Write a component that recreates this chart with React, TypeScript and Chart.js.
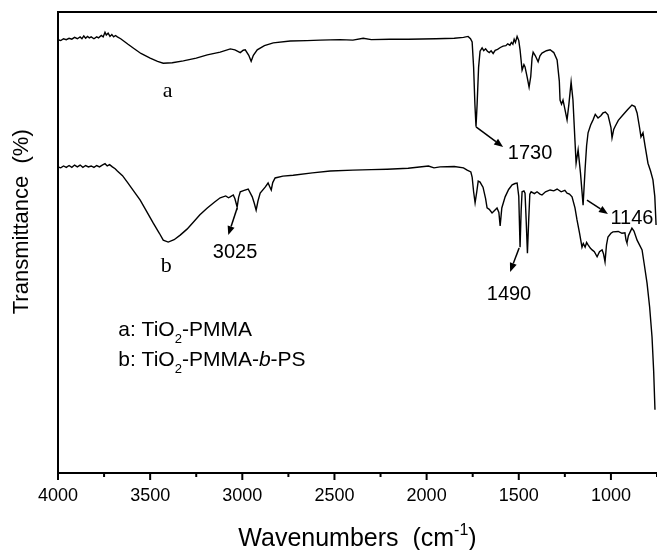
import React, { useEffect, useRef } from "react";
import { Chart, registerables } from "chart.js";

Chart.register(...registerables);

// ---- Data (wavenumber cm^-1, transmittance in arbitrary % units) ----
const SPECTRUM_A: [number, number][] = [
  [4000, 94.0], [3985, 93.8], [3970, 94.2], [3955, 94.0], [3940, 94.3], [3925, 94.1], [3910, 94.5],
  [3895, 94.2], [3880, 94.6], [3870, 94.2], [3860, 94.8], [3850, 94.3], [3840, 94.7], [3830, 94.4],
  [3820, 94.6], [3805, 94.2], [3790, 94.6], [3780, 94.4], [3765, 94.9], [3755, 94.6], [3745, 95.6],
  [3738, 95.0], [3728, 95.4], [3718, 94.7], [3708, 95.1], [3698, 94.6], [3688, 94.9], [3678, 94.6],
  [3660, 94.2], [3640, 93.6], [3620, 93.0], [3592, 92.2], [3550, 91.0], [3500, 90.0], [3460, 89.3],
  [3429, 88.9], [3380, 89.0], [3320, 89.4], [3250, 90.0], [3190, 90.7], [3120, 91.3], [3065, 92.0],
  [3040, 91.8], [3011, 91.2], [2995, 91.7], [2984, 91.8], [2965, 90.6], [2952, 89.3], [2940, 90.6],
  [2919, 91.8], [2880, 92.7], [2832, 93.3], [2740, 93.7], [2650, 93.8], [2578, 93.9], [2470, 94.0],
  [2400, 93.9], [2344, 94.3], [2300, 94.0], [2200, 94.1], [2100, 94.1], [1950, 94.2], [1850, 94.3],
  [1800, 94.5], [1775, 94.7], [1762, 94.2], [1753, 93.5], [1745, 88.0], [1738, 80.0], [1732, 75.1],
  [1726, 80.0], [1718, 88.0], [1710, 91.5], [1699, 92.2], [1690, 91.6], [1680, 92.0], [1670, 91.5],
  [1660, 91.2], [1650, 91.6], [1639, 91.0], [1628, 91.7], [1615, 91.9], [1600, 92.3], [1585, 92.6],
  [1570, 92.7], [1560, 93.1], [1548, 92.8], [1540, 93.4], [1532, 93.0], [1525, 94.1], [1518, 93.4],
  [1509, 94.7], [1500, 93.8], [1493, 91.8], [1482, 87.4], [1472, 88.6], [1466, 88.1], [1455, 86.0],
  [1444, 83.7], [1435, 86.0], [1428, 90.0], [1422, 91.3], [1410, 90.5], [1395, 89.2], [1385, 90.5],
  [1374, 91.1], [1350, 91.6], [1330, 91.8], [1310, 91.2], [1292, 89.6], [1280, 85.0], [1276, 80.9],
  [1268, 80.0], [1260, 80.9], [1250, 79.0], [1238, 76.6], [1228, 80.0], [1216, 84.8], [1206, 80.9],
  [1195, 72.0], [1189, 67.2], [1178, 70.1], [1165, 65.0], [1151, 58.1], [1140, 66.0], [1132, 71.0],
  [1124, 73.8], [1110, 75.5], [1097, 76.6], [1085, 77.8], [1070, 77.0], [1055, 77.5], [1043, 78.1],
  [1030, 78.3], [1016, 77.7], [1000, 75.0], [994, 72.7], [985, 74.5], [978, 75.1], [960, 76.5],
  [934, 77.7], [910, 78.8], [886, 79.8], [870, 79.5], [858, 78.1], [845, 75.0], [837, 72.9],
  [826, 73.8], [815, 71.0], [799, 67.2], [785, 65.5], [772, 63.6], [762, 60.0], [755, 53.8],
];

const SPECTRUM_B: [number, number][] = [
  [4000, 66.4], [3985, 66.2], [3970, 66.6], [3955, 66.3], [3940, 66.7], [3925, 66.3], [3910, 66.8],
  [3895, 66.4], [3880, 66.8], [3865, 66.3], [3850, 66.7], [3835, 66.4], [3820, 66.6], [3805, 66.3],
  [3790, 66.7], [3775, 66.4], [3760, 66.8], [3745, 67.1], [3733, 66.6], [3720, 66.9], [3705, 66.4],
  [3690, 66.0], [3678, 65.5], [3650, 64.5], [3624, 63.1], [3590, 61.2], [3554, 59.2], [3520, 56.8],
  [3483, 54.2], [3450, 52.0], [3429, 50.5], [3402, 50.1], [3370, 50.6], [3337, 51.6], [3300, 52.9],
  [3266, 54.4], [3230, 56.0], [3190, 57.5], [3150, 58.8], [3120, 59.7], [3090, 60.1], [3075, 59.7],
  [3066, 59.9], [3049, 60.3], [3040, 59.5], [3028, 57.7], [3020, 59.8], [3011, 61.0], [2990, 61.3],
  [2968, 61.6], [2946, 59.9], [2935, 58.5], [2925, 57.0], [2915, 59.0], [2903, 60.7], [2876, 62.0],
  [2860, 62.9], [2850, 62.0], [2843, 61.4], [2835, 63.0], [2822, 64.0], [2780, 64.4], [2724, 64.6],
  [2620, 65.1], [2523, 65.5], [2400, 65.7], [2300, 65.8], [2214, 65.9], [2100, 66.1], [1990, 66.6],
  [1960, 66.2], [1927, 66.4], [1850, 66.5], [1800, 66.2], [1780, 65.7], [1760, 65.3], [1753, 64.2],
  [1745, 61.0], [1737, 58.6], [1728, 61.0], [1720, 63.3], [1710, 63.1], [1700, 62.4], [1694, 62.0],
  [1680, 59.5], [1672, 57.5], [1660, 57.2], [1645, 56.4], [1630, 57.0], [1618, 57.5], [1608, 56.5],
  [1601, 53.6], [1592, 57.5], [1574, 59.9], [1555, 61.5], [1536, 62.5], [1520, 62.8], [1509, 62.9],
  [1500, 60.0], [1493, 49.0], [1487, 57.0], [1482, 61.0], [1472, 61.2], [1466, 60.7], [1460, 55.0],
  [1453, 47.7], [1446, 55.0], [1440, 60.5], [1433, 61.0], [1415, 60.6], [1401, 61.0], [1385, 60.5],
  [1374, 60.3], [1355, 61.0], [1330, 61.4], [1310, 61.2], [1292, 61.6], [1270, 61.0], [1250, 61.3],
  [1238, 60.7], [1225, 60.5], [1211, 59.9], [1195, 57.5], [1184, 54.9], [1170, 52.0], [1157, 49.0],
  [1150, 49.8], [1140, 49.0], [1132, 50.0], [1124, 49.5], [1112, 48.8], [1102, 48.4], [1090, 48.0],
  [1075, 46.9], [1062, 48.0], [1048, 48.4], [1040, 47.5], [1032, 45.8], [1024, 49.5], [1016, 51.2],
  [1000, 52.0], [989, 52.3], [960, 52.4], [940, 52.0], [924, 52.1], [918, 50.5], [913, 49.9],
  [905, 51.5], [886, 53.1], [875, 52.5], [858, 50.5], [845, 49.5], [831, 48.4], [820, 45.5],
  [804, 41.2], [790, 36.0], [777, 29.5], [768, 22.0], [761, 13.7],
];

const X_TICK_LABELS = [4000, 3500, 3000, 2500, 2000, 1500, 1000];
const X_RANGE = { min: 750, max: 4000 };
const Y_RANGE = { min: 0, max: 100 };

const CURVE_LABELS = [
  { text: "a", x: 3405, y: 81.6 },
  { text: "b", x: 3413, y: 43.7 },
];

const PEAK_NOTES = [
  { text: "1730", x: 1439, y: 68.1, from: [1732, 75.1], to: [1585, 70.7] },
  { text: "3025", x: 3039, y: 46.6, from: [3028, 57.5], to: [3076, 51.6] },
  { text: "1146", x: 886, y: 54.0, from: [1130, 59.2], to: [1016, 56.2] },
  { text: "1490", x: 1553, y: 37.5, from: [1498, 48.8], to: [1547, 43.6] },
];

type Part = { t: string; sub?: boolean; sup?: boolean; italic?: boolean };

const LEGEND_LINES: { x: number; y: number; parts: Part[] }[] = [
  { x: 3673, y: 29.7, parts: [{ t: "a: TiO" }, { t: "2", sub: true }, { t: "-PMMA" }] },
  {
    x: 3673,
    y: 23.2,
    parts: [{ t: "b: TiO" }, { t: "2", sub: true }, { t: "-PMMA-" }, { t: "b", italic: true }, { t: "-PS" }],
  },
];

const X_TITLE: Part[] = [{ t: "Wavenumbers  (cm" }, { t: "-1", sup: true }, { t: ")" }];
const Y_TITLE = "Transmittance  (%)";

const SANS = "'Liberation Sans', Arial, Helvetica, sans-serif";
const SERIF = "'Liberation Serif', 'Times New Roman', serif";

function fontFor(p: Part, size: number) {
  const s = p.sub || p.sup ? Math.round(size * 0.62) : size;
  return `${p.italic ? "italic " : ""}${s}px ${SANS}`;
}

function drawRich(ctx: CanvasRenderingContext2D, parts: Part[], x: number, y: number, size: number, align: "left" | "center") {
  let total = 0;
  for (const p of parts) {
    ctx.font = fontFor(p, size);
    total += ctx.measureText(p.t).width;
  }
  let cx = align === "center" ? x - total / 2 : x;
  ctx.textAlign = "left";
  ctx.textBaseline = "alphabetic";
  for (const p of parts) {
    ctx.font = fontFor(p, size);
    const dy = p.sub ? size * 0.33 : p.sup ? -size * 0.44 : 0;
    ctx.fillText(p.t, cx, y + dy);
    cx += ctx.measureText(p.t).width;
  }
}

function drawArrow(ctx: CanvasRenderingContext2D, x1: number, y1: number, x2: number, y2: number) {
  const ang = Math.atan2(y2 - y1, x2 - x1);
  const head = 9;
  const half = 3.6;
  const bx = x2 - head * Math.cos(ang);
  const by = y2 - head * Math.sin(ang);
  ctx.beginPath();
  ctx.moveTo(x1, y1);
  ctx.lineTo(bx, by);
  ctx.lineWidth = 1.5;
  ctx.stroke();
  ctx.beginPath();
  ctx.moveTo(x2, y2);
  ctx.lineTo(bx + half * Math.sin(ang), by - half * Math.cos(ang));
  ctx.lineTo(bx - half * Math.sin(ang), by + half * Math.cos(ang));
  ctx.closePath();
  ctx.fill();
}

const framePlugin = {
  id: "frameAndNotes",
  afterDraw(chart: any) {
    const { ctx, chartArea: ca, scales } = chart;
    const xs = scales.x;
    const ys = scales.y;
    ctx.save();
    ctx.strokeStyle = "#000";
    ctx.fillStyle = "#000";
    ctx.lineWidth = 2;
    ctx.lineCap = "butt";
    // frame: left, top, bottom
    ctx.beginPath();
    ctx.moveTo(ca.left, ca.bottom + 1);
    ctx.lineTo(ca.left, ca.top);
    ctx.lineTo(ca.right, ca.top);
    ctx.moveTo(ca.left - 1, ca.bottom);
    ctx.lineTo(ca.right, ca.bottom);
    ctx.stroke();
    // tick marks
    for (const t of xs.ticks) {
      const px = xs.getPixelForValue(t.value);
      const len = X_TICK_LABELS.includes(t.value) ? 7 : 4;
      ctx.beginPath();
      ctx.moveTo(px, ca.bottom);
      ctx.lineTo(px, ca.bottom + len);
      ctx.stroke();
    }
    // axis titles
    drawRich(ctx, X_TITLE, (ca.left + ca.right) / 2, ca.bottom + 73, 25, "center");
    ctx.save();
    ctx.translate(28, ca.top + (ca.bottom - ca.top) * 0.455);
    ctx.rotate(-Math.PI / 2);
    ctx.font = `22px ${SANS}`;
    ctx.textAlign = "center";
    ctx.textBaseline = "alphabetic";
    ctx.fillText(Y_TITLE, 0, 0);
    ctx.restore();
    // curve labels
    ctx.font = `22px ${SERIF}`;
    ctx.textAlign = "center";
    ctx.textBaseline = "alphabetic";
    for (const l of CURVE_LABELS) {
      ctx.fillText(l.text, xs.getPixelForValue(l.x), ys.getPixelForValue(l.y));
    }
    // peak annotations
    for (const n of PEAK_NOTES) {
      ctx.font = `20px ${SANS}`;
      ctx.textAlign = "center";
      ctx.textBaseline = "alphabetic";
      ctx.fillText(n.text, xs.getPixelForValue(n.x), ys.getPixelForValue(n.y));
      drawArrow(
        ctx,
        xs.getPixelForValue(n.from[0]),
        ys.getPixelForValue(n.from[1]),
        xs.getPixelForValue(n.to[0]),
        ys.getPixelForValue(n.to[1])
      );
    }
    // legend text
    for (const l of LEGEND_LINES) {
      drawRich(ctx, l.parts, xs.getPixelForValue(l.x), ys.getPixelForValue(l.y), 21, "left");
    }
    ctx.restore();
  },
};

export default function App() {
  const ref = useRef<HTMLCanvasElement | null>(null);
  useEffect(() => {
    if (!ref.current) return;
    const chart = new Chart(ref.current, {
      type: "line",
      data: {
        datasets: [
          {
            data: SPECTRUM_A.map(([x, y]) => ({ x, y })),
            borderColor: "#000",
            borderWidth: 1.4,
            pointRadius: 0,
            tension: 0,
            fill: false,
          },
          {
            data: SPECTRUM_B.map(([x, y]) => ({ x, y })),
            borderColor: "#000",
            borderWidth: 1.4,
            pointRadius: 0,
            tension: 0,
            fill: false,
          },
        ],
      },
      options: {
        responsive: false,
        animation: false,
        layout: { padding: { top: 12, left: 0, right: 0, bottom: 0 } },
        plugins: { legend: { display: false }, tooltip: { enabled: false } },
        scales: {
          x: {
            type: "linear",
            reverse: true,
            min: X_RANGE.min,
            max: X_RANGE.max,
            position: "bottom",
            grid: { display: false, drawTicks: false },
            border: { display: false },
            ticks: {
              stepSize: 250,
              autoSkip: false,
              maxRotation: 0,
              padding: 12,
              color: "#000",
              font: { size: 18, family: SANS },
              callback: (v: any) => (X_TICK_LABELS.includes(Number(v)) ? String(v) : ""),
            },
            afterFit: (s: any) => {
              s.height = 77;
              s.paddingLeft = 0;
              s.paddingRight = 0;
            },
          },
          y: {
            min: Y_RANGE.min,
            max: Y_RANGE.max,
            grid: { display: false },
            border: { display: false },
            ticks: { display: false },
            afterFit: (s: any) => {
              s.width = 58;
              s.paddingTop = 0;
              s.paddingBottom = 0;
            },
          },
        },
      },
      plugins: [framePlugin],
    } as any);
    return () => chart.destroy();
  }, []);
  return (
    <div style={{ position: "absolute", left: 0, top: 0, width: 657, height: 550, background: "#fff" }}>
      <canvas ref={ref} width={657} height={550} style={{ display: "block" }} />
    </div>
  );
}
